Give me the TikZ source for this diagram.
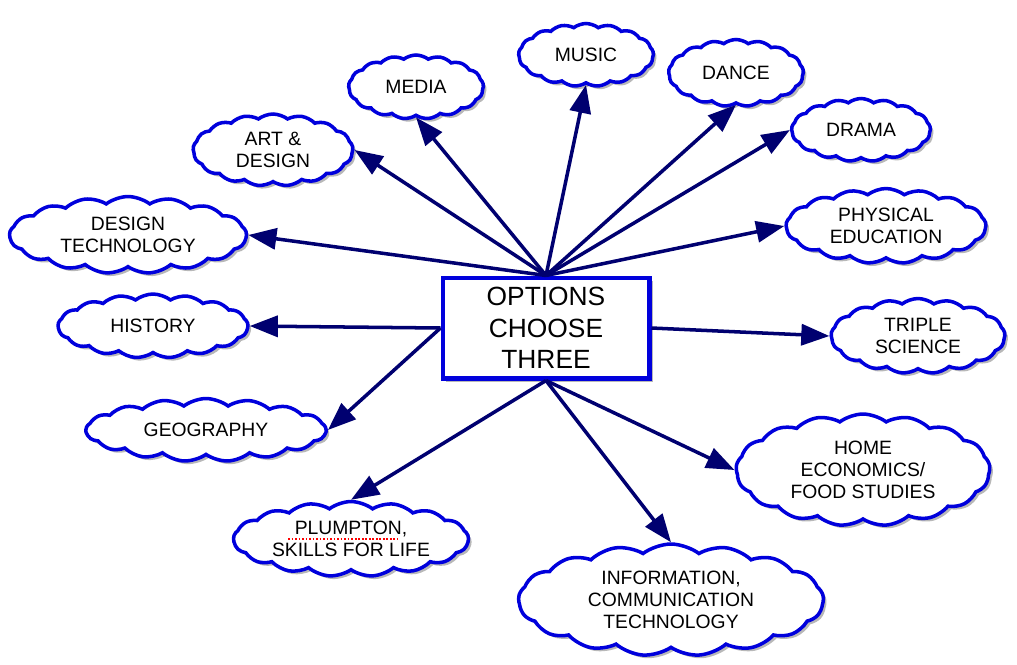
\documentclass[tikz,border=0pt]{standalone}
\usepackage{fontspec}
\setmainfont{Liberation Sans}
\usetikzlibrary{shapes.symbols,shadows,arrows.meta}
\definecolor{cloudblue}{RGB}{0,0,220}
\definecolor{arrownavy}{RGB}{0,0,112}
\tikzset{
  subject/.style={cloud, cloud puffs=17, cloud puff arc=75, cloud ignores aspect,
    draw=cloudblue, line width=2pt, fill=white, align=center, inner sep=0pt,
    font=\fontsize{11}{12.5}\selectfont,
    drop shadow={shadow xshift=1.8pt, shadow yshift=-1.8pt, fill=gray!70, opacity=0.8}},
  optbox/.style={rectangle, draw=cloudblue, line width=2.3pt, fill=white, align=center,
    minimum width=4.14cm, minimum height=2.02cm,
    font=\fontsize{15}{18}\selectfont,
    drop shadow={shadow xshift=2.2pt, shadow yshift=-2.2pt, fill=gray!70, opacity=0.8}},
  link/.style={draw=arrownavy, line width=2pt, -{Triangle[length=16pt,width=12pt]}}
}
\begin{document}
\begin{tikzpicture}[x=0.02cm, y=-0.02cm]
    \useasboundingbox (0,0) rectangle (1017,664);
    % Centre box
    \node[optbox] (options) at (546,328) {OPTIONS\\CHOOSE\\THREE};
    % Subjects above
    \node[subject, minimum width=2.7cm, minimum height=1.28cm] (media) at (416,87) {MEDIA};
    \node[subject, minimum width=2.7cm, minimum height=1.26cm] (music) at (586,55) {MUSIC};
    \node[subject, minimum width=2.7cm, minimum height=1.34cm] (dance) at (736,73) {DANCE};
    \node[subject, minimum width=3.2cm, minimum height=1.44cm] (art) at (273,150) {ART \&\\DESIGN};
    \node[subject, minimum width=4.74cm, minimum height=1.54cm] (dt) at (128,235) {DESIGN\\TECHNOLOGY};
    \node[subject, minimum width=2.78cm, minimum height=1.26cm] (drama) at (861,130) {DRAMA};
    \node[subject, minimum width=4cm, minimum height=1.5cm] (pe) at (886,226) {PHYSICAL\\EDUCATION};
    % Subjects at the sides
    \node[subject, minimum width=3.8cm, minimum height=1.28cm] (history) at (153,326) {HISTORY};
    \node[subject, minimum width=4.8cm, minimum height=1.26cm] (geography) at (206,430) {GEOGRAPHY};
    \node[subject, minimum width=3.48cm, minimum height=1.5cm] (triple) at (918,336) {TRIPLE\\SCIENCE};
    % Subjects below
    \node[subject, minimum width=5.08cm, minimum height=2.24cm] (home) at (863,470) {HOME\\ECONOMICS/\\FOOD STUDIES};
    \node[subject, minimum width=6.1cm, minimum height=2.24cm] (ict) at (671,600) {INFORMATION,\\COMMUNICATION\\TECHNOLOGY};
    \node[subject, minimum width=4.7cm, minimum height=1.5cm] (plumpton) at (351,539) {PLUMPTON,\\SKILLS FOR LIFE};
    \draw[red, line width=1pt, dash pattern=on 1pt off 1pt] (288,539) -- (397,539);
    % Arrows
    \draw[link] (options.north) -- (media.south);
    \draw[link] (options.north) -- (music.south);
    \draw[link] (options.north) -- (dance.south);
    \draw[link] (options.north) -- (art.east);
    \draw[link] (options.north) -- (dt.east);
    \draw[link] (options.north) -- (drama.west);
    \draw[link] (options.north) -- (pe.west);
    \draw[link] (options.west) -- (history.east);
    \draw[link] (options.west) -- (geography.east);
    \draw[link] (options.east) -- (triple.west);
    \draw[link] (options.south) -- (home.west);
    \draw[link] (options.south) -- (ict.north);
    \draw[link] (options.south) -- (plumpton.north);
\end{tikzpicture}
\end{document}
